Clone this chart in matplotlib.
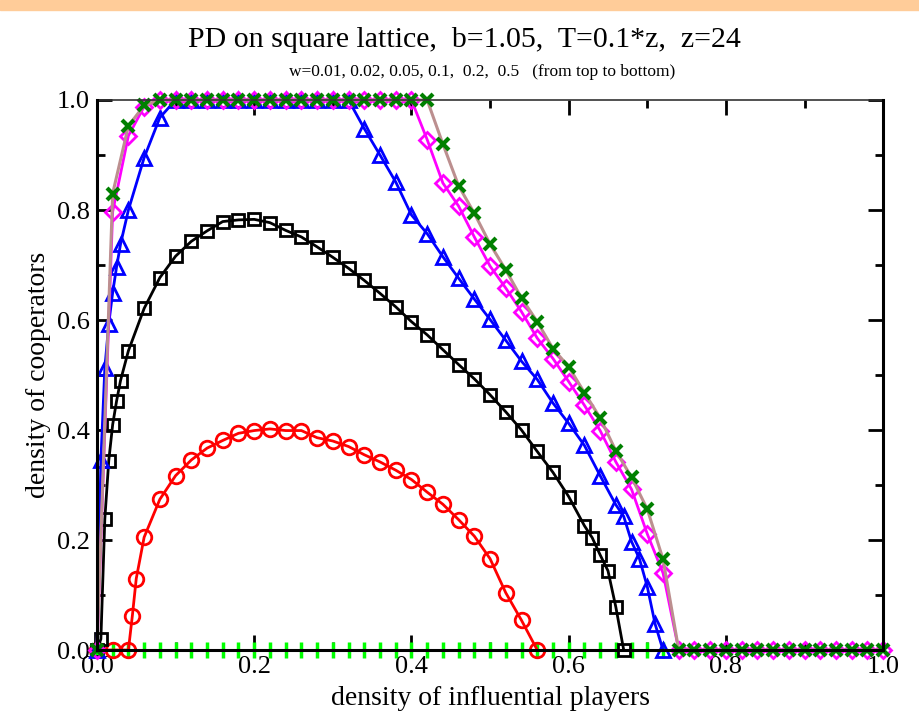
import matplotlib
matplotlib.use('Agg')
import matplotlib.pyplot as plt
from matplotlib.patches import Rectangle
from matplotlib.ticker import MultipleLocator

plt.rcParams['font.family'] = ['Liberation Serif', 'DejaVu Serif']

# x grid for w=0.01 and w=0.02
x_full = [0.00, 0.02, 0.04, 0.06, 0.08, 0.10, 0.12, 0.14, 0.16, 0.18,
          0.20, 0.22, 0.24, 0.26, 0.28, 0.30, 0.32, 0.34, 0.36, 0.38,
          0.40, 0.42, 0.44, 0.46, 0.48, 0.50, 0.52, 0.54, 0.56, 0.58,
          0.60, 0.62, 0.64, 0.66, 0.68, 0.70, 0.72, 0.74, 0.76, 0.78,
          0.80, 0.82, 0.84, 0.86, 0.88, 0.90, 0.92, 0.94, 0.96, 0.98, 1.00]

y_w001 = [0.0, 0.83, 0.953, 0.99,
          1.0, 1.0, 1.0, 1.0, 1.0, 1.0, 1.0, 1.0, 1.0, 1.0, 1.0, 1.0, 1.0, 1.0, 1.0, 1.0, 1.0, 1.0,
          0.92, 0.844, 0.794, 0.738, 0.691, 0.640, 0.597, 0.548, 0.515, 0.468, 0.422, 0.362, 0.314, 0.256, 0.165,
          0.0, 0.0, 0.0, 0.0, 0.0, 0.0, 0.0, 0.0, 0.0, 0.0, 0.0, 0.0, 0.0, 0.0]

y_w002 = [0.0, 0.797, 0.935, 0.988,
          1.0, 1.0, 1.0, 1.0, 1.0, 1.0, 1.0, 1.0, 1.0, 1.0, 1.0, 1.0, 1.0, 1.0, 1.0, 1.0, 1.0,
          0.928, 0.849, 0.807, 0.751, 0.698, 0.658, 0.615, 0.567, 0.530, 0.488, 0.445, 0.399, 0.342, 0.292, 0.211, 0.140,
          0.0, 0.0, 0.0, 0.0, 0.0, 0.0, 0.0, 0.0, 0.0, 0.0, 0.0, 0.0, 0.0, 0.0]

x_w005 = [0.0, 0.005, 0.01, 0.015, 0.02, 0.025, 0.03, 0.04, 0.06, 0.08,
          0.10, 0.12, 0.14, 0.16, 0.18, 0.20, 0.22, 0.24, 0.26, 0.28, 0.30, 0.32,
          0.34, 0.36, 0.38, 0.40, 0.42, 0.44, 0.46, 0.48, 0.50, 0.52, 0.54, 0.56, 0.58, 0.60, 0.62, 0.64, 0.66,
          0.67, 0.68, 0.69, 0.70, 0.71, 0.72]
y_w005 = [0.0, 0.345, 0.512, 0.593, 0.65, 0.697, 0.738, 0.80, 0.895, 0.968,
          1.0, 1.0, 1.0, 1.0, 1.0, 1.0, 1.0, 1.0, 1.0, 1.0, 1.0, 1.0,
          0.948, 0.90, 0.851, 0.791, 0.757, 0.715, 0.676, 0.638, 0.601, 0.563, 0.525, 0.492, 0.449, 0.412, 0.372, 0.317, 0.264,
          0.243, 0.197, 0.166, 0.115, 0.047, 0.0]

x_w01 = [0.0, 0.005, 0.01, 0.015, 0.02, 0.025, 0.03, 0.04,
         0.06, 0.08, 0.10, 0.12, 0.14, 0.16, 0.18, 0.20, 0.22, 0.24, 0.26, 0.28, 0.30,
         0.32, 0.34, 0.36, 0.38, 0.40, 0.42, 0.44, 0.46, 0.48, 0.50, 0.52, 0.54, 0.56, 0.58, 0.60, 0.62,
         0.63, 0.64, 0.65, 0.66, 0.67]
y_w01 = [0.0, 0.02, 0.238, 0.344, 0.41, 0.453, 0.49, 0.544,
         0.621, 0.677, 0.716, 0.743, 0.762, 0.779, 0.782, 0.783, 0.777, 0.763, 0.751, 0.733, 0.714,
         0.694, 0.672, 0.6485, 0.624, 0.597, 0.573, 0.546, 0.519, 0.493, 0.464, 0.433, 0.40, 0.361, 0.323, 0.279, 0.226,
         0.204, 0.173, 0.144, 0.078, 0.0]

x_w02 = [0.0, 0.02, 0.04, 0.045, 0.05,
         0.06, 0.08, 0.10, 0.12, 0.14, 0.16, 0.18, 0.20, 0.22, 0.24, 0.26, 0.28, 0.30,
         0.32, 0.34, 0.36, 0.38, 0.40, 0.42, 0.44, 0.46, 0.48, 0.50, 0.52, 0.54, 0.56]
y_w02 = [0.0, 0.0, 0.0, 0.062, 0.13,
         0.205, 0.274, 0.317, 0.3455, 0.367, 0.381, 0.394, 0.399, 0.402, 0.399, 0.399, 0.386, 0.38,
         0.37, 0.355, 0.342, 0.327, 0.31, 0.287, 0.265, 0.237, 0.207, 0.166, 0.104, 0.054, 0.0]

x_w05 = [0.00, 0.02, 0.04, 0.06, 0.08, 0.10, 0.12, 0.14, 0.16, 0.18,
         0.20, 0.22, 0.24, 0.26, 0.28, 0.30, 0.32, 0.34, 0.36, 0.38,
         0.40, 0.42, 0.44, 0.46, 0.48, 0.50, 0.52, 0.54, 0.56, 0.58,
         0.60, 0.62, 0.64, 0.66, 0.68, 0.70, 0.72]
y_w05 = [0.0, 0.0, 0.0, 0.0, 0.0, 0.0, 0.0, 0.0, 0.0, 0.0,
         0.0, 0.0, 0.0, 0.0, 0.0, 0.0, 0.0, 0.0, 0.0, 0.0,
         0.0, 0.0, 0.0, 0.0, 0.0, 0.0, 0.0, 0.0, 0.0, 0.0,
         0.0, 0.0, 0.0, 0.0, 0.0, 0.0, 0.0]

fig = plt.figure(figsize=(9.19, 7.22), dpi=100)
fig.patches.append(Rectangle((0, 0.986), 1, 0.014, transform=fig.transFigure,
                             color='#FFCC99', zorder=0))
ax = fig.add_axes([0.1055, 0.0997, 0.8555, 0.7618])

# drawn from bottom (w=0.5) to top (w=0.01)
ax.plot(x_w05, y_w05, color='#006400', lw=2, marker='|', ms=11, mew=2.5,
        mec='#00FF00', clip_on=False)
ax.plot(x_w02, y_w02, color='#FF0000', lw=2, marker='o', ms=10.5, mew=2,
        mfc='none', mec='#FF0000', clip_on=False)
ax.plot(x_w01, y_w01, color='black', lw=2, marker='s', ms=9, mew=2,
        mfc='none', mec='black', clip_on=False)
ax.plot(x_w005, y_w005, color='#0000FF', lw=2, marker='^', ms=10, mew=2,
        mfc='none', mec='#0000FF', clip_on=False)
ax.plot(x_full, y_w002, color='#FF00FF', lw=2, marker='D', ms=8.5, mew=2,
        mfc='none', mec='#FF00FF', clip_on=False)
ax.plot(x_full, y_w001, color='#BC8F8F', lw=2.2, marker='x', ms=9, mew=3,
        mec='#008000', clip_on=False)

ax.set_xlim(0, 1)
ax.set_ylim(0, 1)
ax.xaxis.set_major_locator(MultipleLocator(0.2))
ax.xaxis.set_minor_locator(MultipleLocator(0.1))
ax.yaxis.set_major_locator(MultipleLocator(0.2))
ax.yaxis.set_minor_locator(MultipleLocator(0.1))
ax.xaxis.set_major_formatter(plt.FuncFormatter(lambda v, p: '%.1f' % v))
ax.yaxis.set_major_formatter(plt.FuncFormatter(lambda v, p: '%.1f' % v))
ax.tick_params(which='both', direction='in', top=True, right=True, width=2, labelsize=19)
ax.tick_params(which='major', length=11)
ax.tick_params(which='minor', length=6)
ax.tick_params(axis='x', pad=4)
ax.tick_params(axis='y', pad=5)

for side in ['left', 'bottom', 'right']:
    ax.spines[side].set_linewidth(2.2)
    ax.spines[side].set_zorder(3)
ax.spines['top'].set_linewidth(1.2)
ax.spines['top'].set_color('#333333')

ax.set_xlabel('density of influential players', fontsize=20, labelpad=6)
ax.set_ylabel('density of cooperators', fontsize=20, labelpad=4)

fig.text(0.505, 0.945, 'PD on square lattice,  b=1.05,  T=0.1*z,  z=24',
         ha='center', va='center', fontsize=21.5)
fig.text(0.525, 0.900, 'w=0.01, 0.02, 0.05, 0.1,  0.2,  0.5   (from top to bottom)',
         ha='center', va='center', fontsize=12.5)

fig.savefig('out.png', dpi=100)
